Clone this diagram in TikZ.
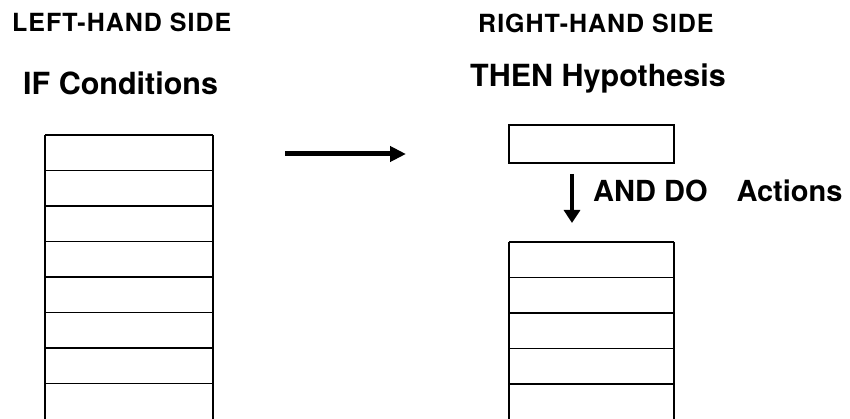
\documentclass[tikz,border=0pt]{standalone}
\usepackage{fontspec}
\setmainfont{TeX Gyre Heros}
\usetikzlibrary{arrows.meta}
\tikzset{
  heading/.style={anchor=base west,inner sep=0pt,font=\bfseries\fontsize{25}{30}\selectfont\addfontfeature{LetterSpace=4}},
  title/.style={anchor=base west,inner sep=0pt,font=\bfseries\fontsize{30.5}{36}\selectfont},
  cell/.style={line width=1.6pt},
}
\begin{document}
\begin{tikzpicture}[x=1pt,y=-1pt]
\useasboundingbox (0,0) rectangle (850,419);

\node[heading] (lhs) at (12,32) {LEFT-HAND SIDE};
\node[title] (ifc) at (23,95) {IF Conditions};
\node[heading] (rhs) at (478,33) {RIGHT-HAND SIDE};
\node[title] (then) at (470,87) {THEN Hypothesis};

\foreach \i in {0,1,...,7} {
\draw[cell] (45,135+35.5*\i) -- (213,135+35.5*\i);
}
\draw[cell] (45,135) -- (45,419) (213,135) -- (213,419);

\coordinate (go) at (285,154);
\coordinate (to) at (406,154);
\draw[line width=5pt,-{Triangle[length=16pt,width=15pt]}] (go) -- (to);

\node[draw,cell,anchor=north west,inner sep=0pt,minimum width=165pt,minimum height=38pt] (hyp) at (508,124) {};

\coordinate (dotop) at (572,174);
\coordinate (dobot) at (572,223);
\draw[line width=3.5pt,-{Triangle[length=13pt,width=16pt]}] (dotop) -- (dobot);
\node[anchor=base west,inner sep=0pt,font=\bfseries\fontsize{29}{34}\selectfont] (act) at (593,202) {AND DO\quad Actions};

\foreach \i in {0,1,...,4} {
\draw[cell] (509,242+35.5*\i) -- (674,242+35.5*\i);
}
\draw[cell] (509,242) -- (509,419) (674,242) -- (674,419);
\end{tikzpicture}
\end{document}
